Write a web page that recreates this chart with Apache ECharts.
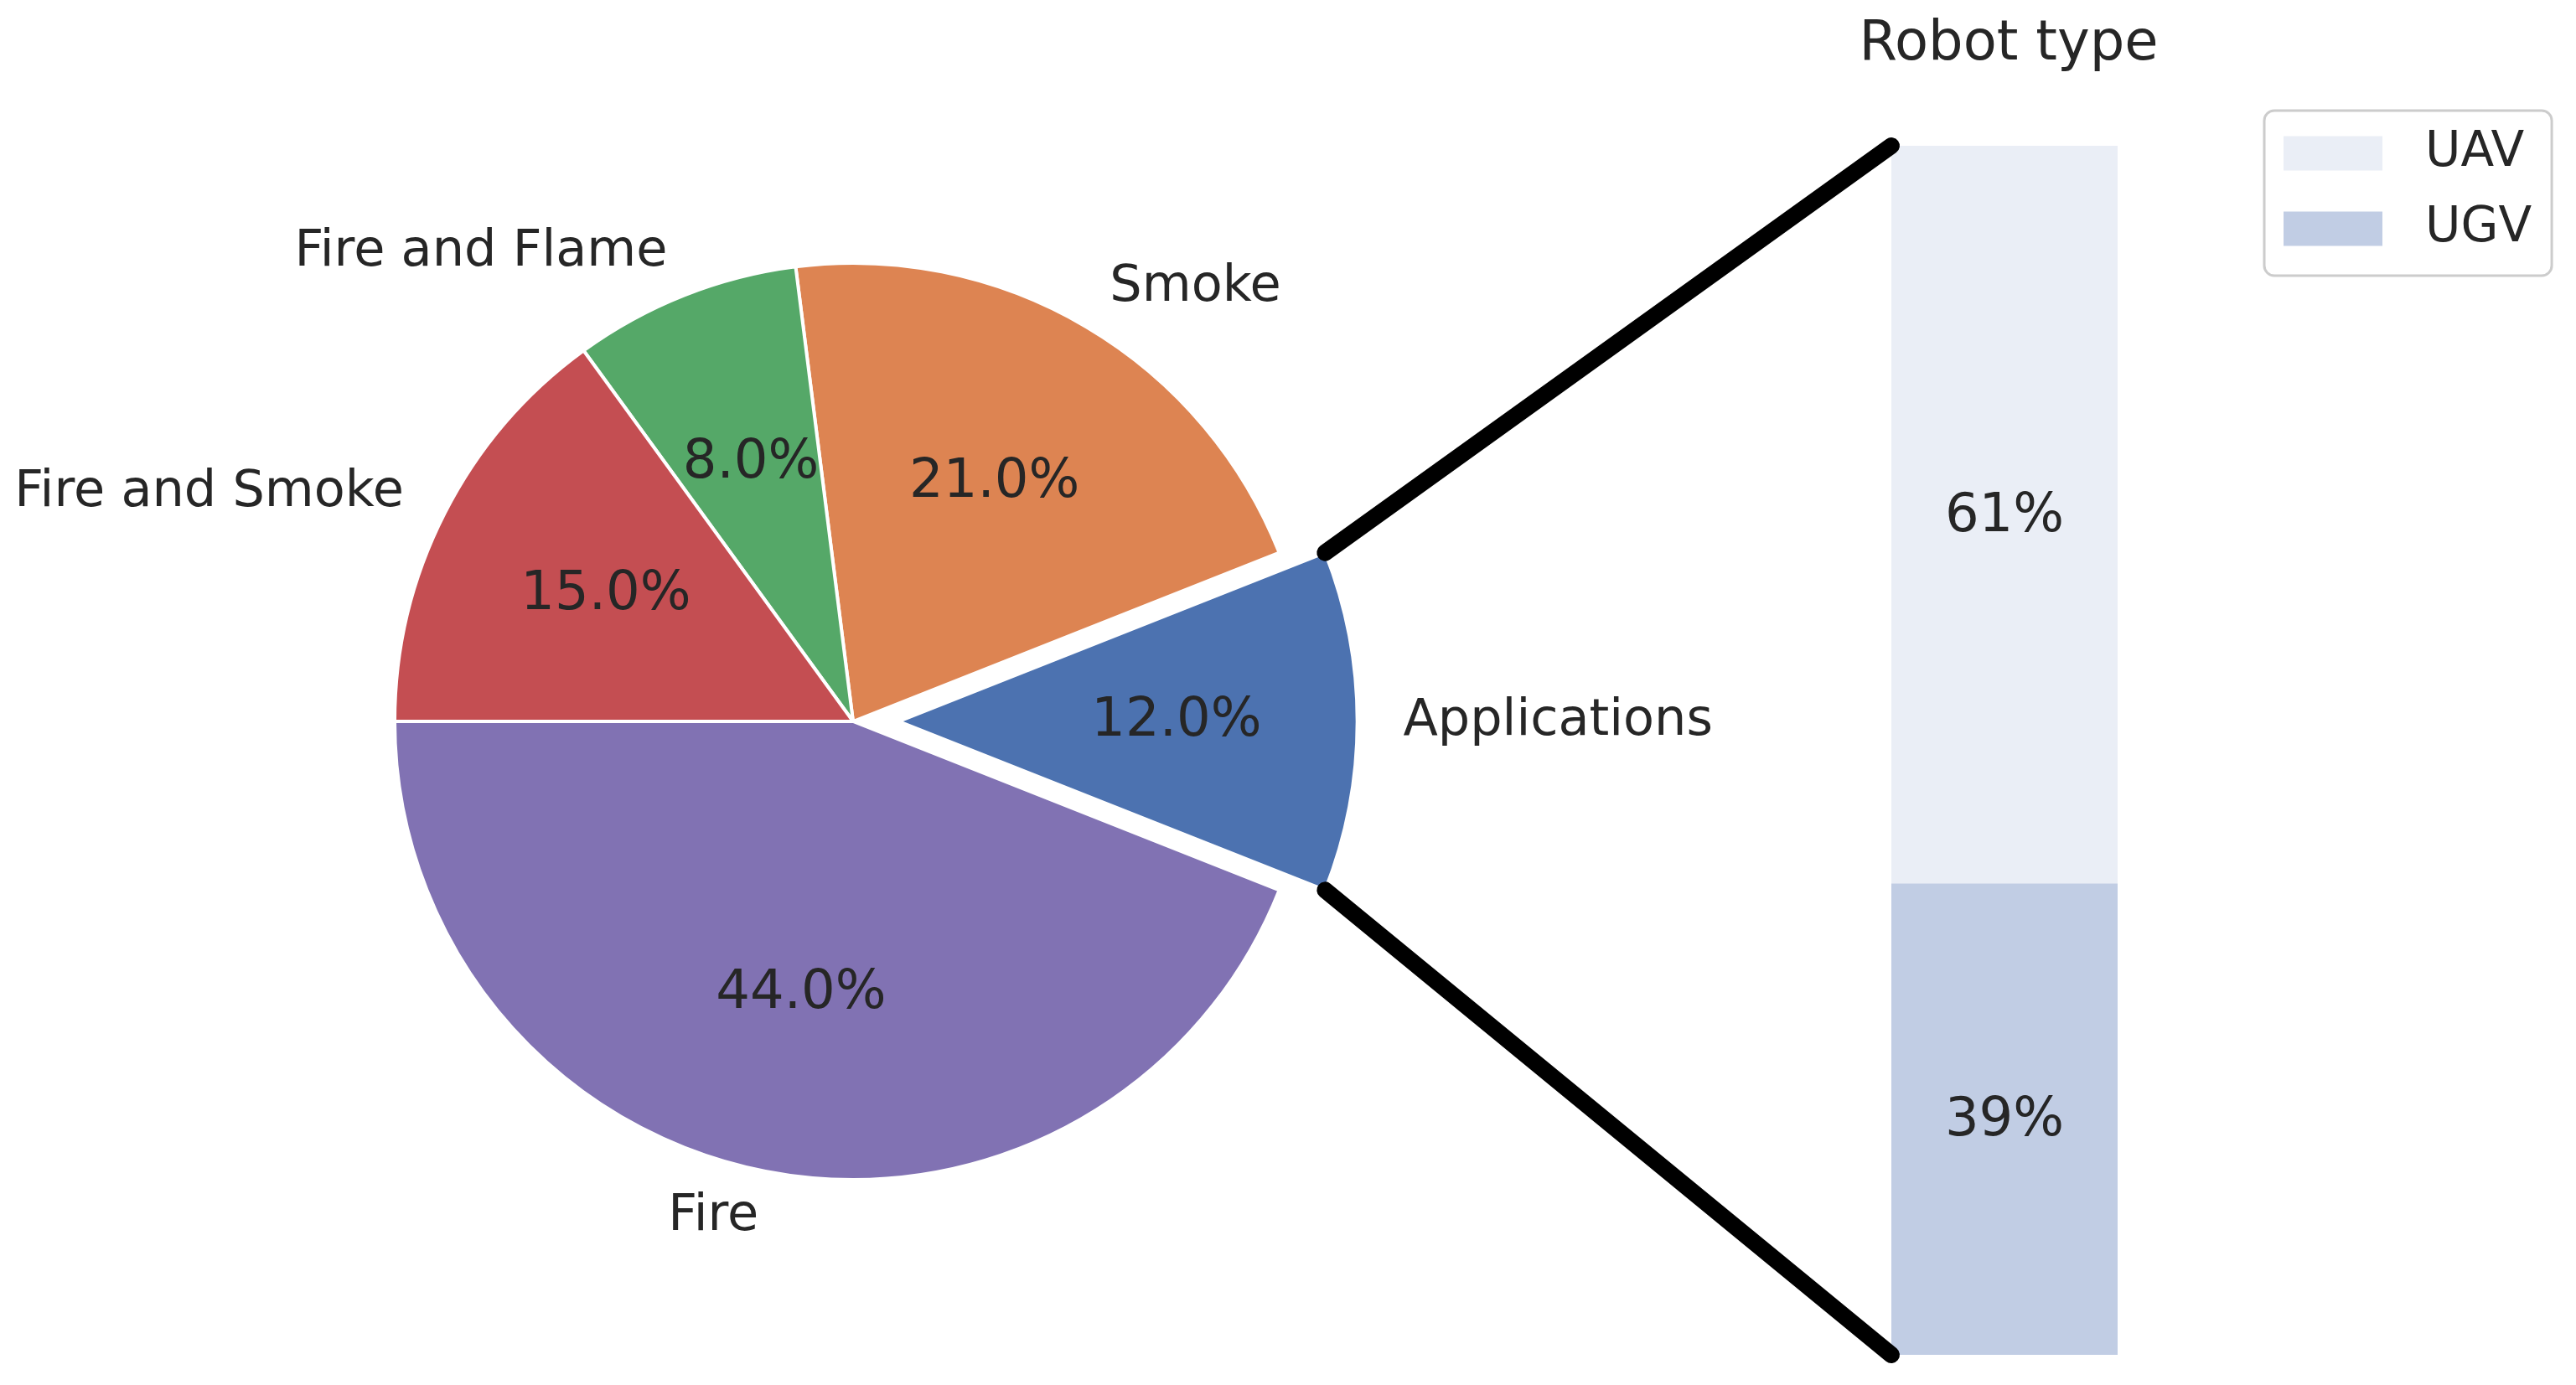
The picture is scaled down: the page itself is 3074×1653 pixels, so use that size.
<!DOCTYPE html>
<html lang="en">
<head>
    <meta charset="UTF-8">
    <title>Robot type</title>
    <script src="https://cdn.jsdelivr.net/npm/echarts@6/dist/echarts.min.js"></script>
</head>
<body style="padding: 0; margin: 0; background: #fff">
    <div id="main" style="width: 3074px; height: 1653px;"></div>
<script>
    // pie: share of topics
    var categories = ['Applications', 'Smoke', 'Fire and Flame', 'Fire and Smoke', 'Fire'];
    var shares = [12, 21, 8, 15, 44];
    var sliceColors = ['#4c72b0', '#dd8452', '#55a868', '#c44e52', '#8172b3'];

    // bar: robot type inside "Applications"
    var robotTypes = ['UAV', 'UGV'];
    var robotShares = [61, 39];
    var robotColors = ['#eaeef6', '#c1cde4'];

    var font = 'DejaVu Sans';
    var textColor = '#262626';

    var cx = 1018, cy = 861, r = 547;
    var explode = 0.1 * r;
    var startAngle = 360 - shares[0] * 3.6 / 2;   // first slice centred on 3 o'clock
    var barLeft = 2257, barWidth = 270, barTop = 174, barBottom = 36;

    var myChart = echarts.init(document.getElementById('main'));

    var pieData = categories.map(function (name, i) {
        return {name: name, value: shares[i], selected: i === 0, itemStyle: {color: sliceColors[i]}};
    });
    var pctData = categories.map(function (name, i) {
        return {name: name, value: shares[i], selected: i === 0};
    });

    // stack bottom-up: UGV first, then UAV
    var barSeries = [1, 0].map(function (i) {
        return {
            type: 'bar',
            name: robotTypes[i],
            stack: 'robot',
            barWidth: '100%',
            data: [robotShares[i]],
            itemStyle: {color: robotColors[i]},
            label: {
                show: true,
                position: 'inside',
                offset: [0, 3],
                formatter: '{c}%',
                fontSize: 64,
                fontFamily: font,
                color: textColor
            }
        };
    });

    option = {
        backgroundColor: '#fff',
        animation: false,
        title: {
            text: 'Robot type',
            left: barLeft + barWidth / 2,
            textAlign: 'center',
            top: 16,
            textStyle: {fontSize: 65.5, fontWeight: 'normal', fontFamily: font, color: textColor}
        },
        legend: {
            data: robotTypes,
            orient: 'vertical',
            left: 2702,
            top: 132,
            icon: 'rect',
            itemWidth: 118,
            itemHeight: 41,
            itemGap: 32,
            padding: [22, 24, 27, 23],
            borderColor: '#cccccc',
            borderWidth: 3,
            borderRadius: 12,
            textStyle: {fontSize: 58, fontFamily: font, color: textColor, padding: [0, 0, 0, 46]}
        },
        grid: {left: barLeft, width: barWidth, top: barTop, bottom: barBottom},
        xAxis: {type: 'category', data: ['Robot type'], show: false},
        yAxis: {type: 'value', min: 0, max: 100, show: false},
        series: [
            {
                type: 'pie',
                center: [cx, cy],
                radius: r,
                startAngle: startAngle,
                clockwise: false,
                selectedMode: 'single',
                selectedOffset: explode,
                avoidLabelOverlap: false,
                itemStyle: {borderColor: '#fff', borderWidth: 4},
                label: {
                    show: true,
                    position: 'outside',
                    fontSize: 60.5,
                    fontFamily: font,
                    color: textColor,
                    distanceToLabelLine: 0
                },
                labelLine: {show: false, length: 0.1 * r, length2: 0},
                emphasis: {disabled: true},
                data: pieData
            },
            {
                // invisible copy, 1.2x radius, so 'inside' labels land at 0.6 r
                type: 'pie',
                center: [cx, cy],
                radius: 1.2 * r,
                startAngle: startAngle,
                clockwise: false,
                selectedMode: 'single',
                selectedOffset: explode,
                silent: true,
                itemStyle: {color: 'rgba(0,0,0,0)', borderWidth: 0},
                label: {
                    show: true,
                    position: 'inside',
                    fontSize: 64,
                    fontFamily: font,
                    color: textColor,
                    formatter: function (p) { return p.percent.toFixed(1) + '%'; }
                },
                labelLine: {show: false},
                emphasis: {disabled: true},
                data: pctData
            }
        ].concat(barSeries)
    };
    myChart.setOption(option);

    // connector lines from the exploded slice to the bar corners
    var half = shares[0] * 3.6 / 2 * Math.PI / 180;
    var wx = cx + explode + r * Math.cos(half);
    var yTop = myChart.convertToPixel({yAxisIndex: 0}, 100);
    var yBot = myChart.convertToPixel({yAxisIndex: 0}, 0);
    var lineStyle = {stroke: '#000', lineWidth: 20, lineCap: 'round'};
    myChart.setOption({
        graphic: [
            {type: 'line', z: 10, shape: {x1: wx, y1: cy - r * Math.sin(half), x2: barLeft, y2: yTop}, style: lineStyle},
            {type: 'line', z: 10, shape: {x1: wx, y1: cy + r * Math.sin(half), x2: barLeft, y2: yBot}, style: lineStyle}
        ]
    });
</script>
</body>
</html>
